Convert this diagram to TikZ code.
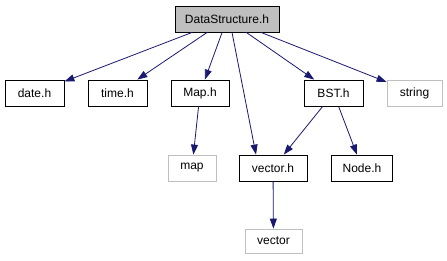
\documentclass[tikz,border=0pt]{standalone}
\usepackage{fontspec}
\setmainfont{Liberation Sans}
\usetikzlibrary{arrows.meta}
\definecolor{edgeblue}{HTML}{191970}
\definecolor{boxgray}{HTML}{BFBFBF}
\begin{document}
\begin{tikzpicture}[x=1pt,y=-1pt,
    file/.style={draw=black,line width=0.8pt,fill=white,minimum height=26pt,
      inner sep=0pt,font=\fontsize{12}{14}\selectfont},
    sysfile/.style={file,draw=boxgray},
    incl/.style={draw=edgeblue,line width=0.8pt,
      -{Triangle[length=10pt,width=7pt]}}]
  \useasboundingbox (0,0) rectangle (447,261);
  % the file itself
  \node[file,fill=boxgray,minimum width=104pt] (top) at (227,19) {DataStructure.h};
  % first row of includes
  \node[file,minimum width=59pt] (date) at (34.5,93) {date.h};
  \node[file,minimum width=59pt] (time) at (117.5,93) {time.h};
  \node[file,minimum width=58pt] (maph) at (200,93) {Map.h};
  \node[file,minimum width=59pt] (bst) at (333.5,93) {BST.h};
  \node[sysfile,minimum width=55pt] (string) at (414.5,93) {string};
  % second row
  \node[sysfile,minimum width=48pt] (map) at (192,168) {map};
  \node[file,minimum width=68pt] (vech) at (273,168) {vector.h};
  \node[file,minimum width=61pt] (nodeh) at (362,168) {Node.h};
  % third row
  \node[sysfile,minimum width=57pt,minimum height=24pt] (vector) at (273.5,241) {vector};
  % edges
  \draw[incl] (top) -- (date);
  \draw[incl] (top) -- (time);
  \draw[incl] (top) -- (maph);
  \draw[incl] ([xshift=5pt]top.south) -- ([xshift=-17pt]vech.north);
  \draw[incl] (top) -- (bst);
  \draw[incl] (top) -- (string);
  \draw[incl] (maph) -- (map);
  \draw[incl] (bst) -- (vech);
  \draw[incl] (bst) -- (nodeh);
  \draw[incl] (vech) -- (vector);
\end{tikzpicture}
\end{document}
